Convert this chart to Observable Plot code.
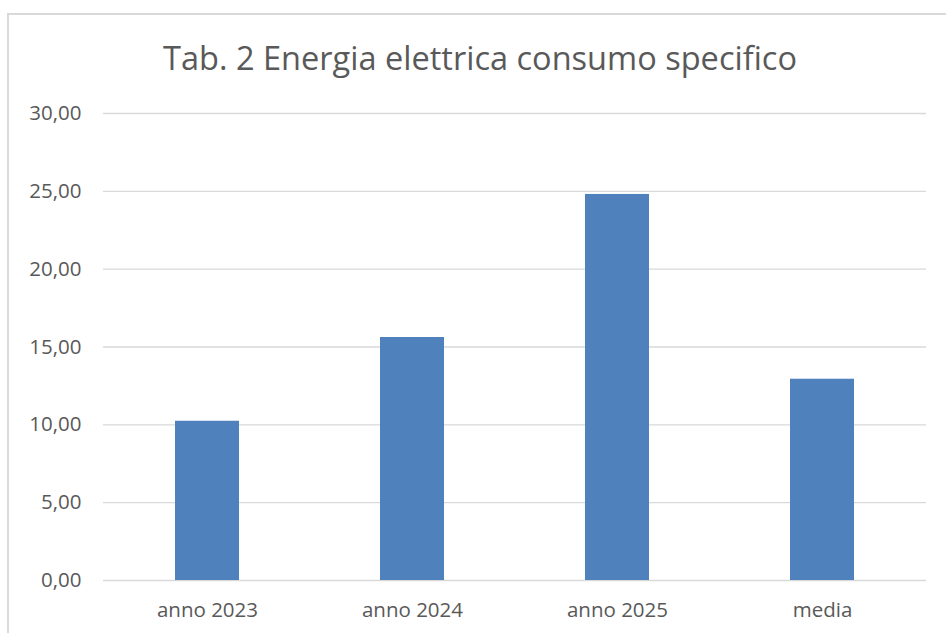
<!DOCTYPE html>
<html><head><meta charset="utf-8">
<script src="https://cdn.jsdelivr.net/npm/d3@7"></script>
<script src="https://cdn.jsdelivr.net/npm/@observablehq/plot@0.6"></script>
<style>
html,body{margin:0;padding:0;background:#fff;}
#frame{position:relative;width:946px;height:633px;overflow:hidden;font-family:"Open Sans",sans-serif;}
#border{position:absolute;left:7px;top:13px;right:-4px;bottom:-4px;border-left:2px solid #d9d9d9;border-top:2px solid #d9d9d9;}
#title{position:absolute;left:163px;top:41px;white-space:nowrap;font-size:33px;color:#595959;line-height:1;transform-origin:0 0;}
#chart{position:absolute;left:0;top:90px;}
</style></head><body>
<div id="frame"><div id="border"></div><div id="title">Tab. 2 Energia elettrica consumo specifico</div><div id="chart"></div></div>
<script>
const categories = ["anno 2023", "anno 2024", "anno 2025", "media"];
const values = [10.23, 15.61, 24.80, 12.93];
const yTicks = [0, 5, 10, 15, 20, 25, 30];

const data = categories.map((c, i) => ({category: c, value: values[i]}));
const fmt = d => d3.format(".2f")(d).replace(".", ",");

const plot = Plot.plot({
  width: 946, height: 540,
  marginTop: 23, marginBottom: 50, marginLeft: 103, marginRight: 20,
  style: {fontFamily: "Open Sans", fontSize: "20.5px", color: "#595959", background: "transparent"},
  x: {domain: categories, paddingInner: 0.69, paddingOuter: 0.345, label: null},
  y: {domain: [0, 30], label: null},
  marks: [
    Plot.ruleY(yTicks, {stroke: "#d9d9d9", strokeWidth: 1.3}),
    Plot.barY(data, {x: "category", y: "value", fill: "#4f81bd"}),
    Plot.axisY(yTicks, {tickSize: 0, tickPadding: 22, tickFormat: fmt, label: null, fill: "#595959"}),
    Plot.axisX({tickSize: 0, tickPadding: 22, label: null, fill: "#595959"})
  ]
});
document.getElementById("chart").appendChild(plot);

const t = document.getElementById("title");
const w = t.getBoundingClientRect().width;
t.style.transform = `scaleX(${634 / w})`;
</script>
</body></html>
